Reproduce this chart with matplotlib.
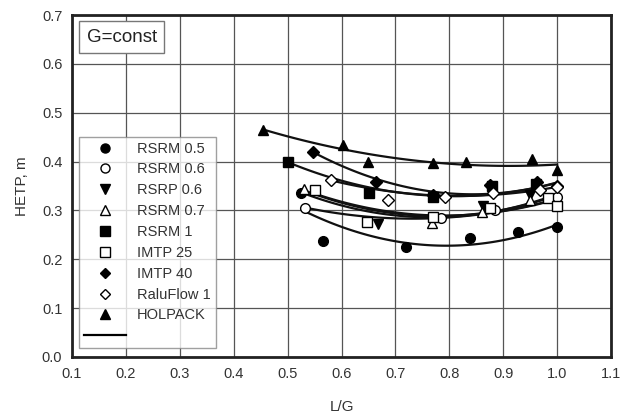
import numpy as np
import matplotlib
matplotlib.use("Agg")
import matplotlib.pyplot as plt
from matplotlib.lines import Line2D

plt.rcParams['font.family'] = ['Liberation Sans', 'DejaVu Sans']

# ---- data ----
names = ["RSRM 0.5", "RSRM 0.6", "RSRP 0.6", "RSRM 0.7", "RSRM 1",
         "IMTP 25", "IMTP 40", "RaluFlow 1", "HOLPACK"]
markers = ["o", "o", "v", "^", "s", "s", "D", "D", "^"]
filled = [True, False, True, False, True, False, True, False, True]

rsrm05_x = [0.525, 0.566, 0.72, 0.838, 0.927, 1.0]
rsrm05_y = [0.335, 0.237, 0.225, 0.243, 0.256, 0.267]
rsrm06_x = [0.533, 0.785, 0.885, 1.0]
rsrm06_y = [0.304, 0.284, 0.300, 0.328]
rsrp06_x = [0.667, 0.862, 0.95]
rsrp06_y = [0.272, 0.310, 0.331]
rsrm07_x = [0.53, 0.768, 0.861, 0.95]
rsrm07_y = [0.343, 0.274, 0.297, 0.321]
rsrm1_x = [0.5, 0.651, 0.77, 0.879, 0.96]
rsrm1_y = [0.40, 0.335, 0.327, 0.350, 0.355]
imtp25_x = [0.551, 0.647, 0.77, 0.876, 0.983, 1.0]
imtp25_y = [0.342, 0.276, 0.286, 0.304, 0.325, 0.310]
imtp40_x = [0.547, 0.664, 0.77, 0.876, 0.963, 1.0]
imtp40_y = [0.419, 0.358, 0.332, 0.352, 0.358, 0.350]
ralu_x = [0.58, 0.686, 0.792, 0.881, 0.968, 1.0]
ralu_y = [0.362, 0.321, 0.327, 0.335, 0.341, 0.348]
hol_x = [0.455, 0.603, 0.649, 0.77, 0.831, 0.953, 1.0]
hol_y = [0.465, 0.434, 0.400, 0.397, 0.400, 0.405, 0.382]

series_x = [rsrm05_x, rsrm06_x, rsrp06_x, rsrm07_x, rsrm1_x, imtp25_x, imtp40_x, ralu_x, hol_x]
series_y = [rsrm05_y, rsrm06_y, rsrp06_y, rsrm07_y, rsrm1_y, imtp25_y, imtp40_y, ralu_y, hol_y]

# fitted curves: knots, smoothed by quadratic fit
curve_hol_x = [0.455, 0.6, 0.75, 0.9, 1.0]
curve_hol_y = [0.466, 0.425, 0.400, 0.393, 0.393]
curve_imtp40_x = [0.55, 0.66, 0.77, 0.88, 1.0]
curve_imtp40_y = [0.420, 0.362, 0.337, 0.340, 0.355]
curve_rsrm1_x = [0.5, 0.65, 0.77, 0.88, 1.0]
curve_rsrm1_y = [0.400, 0.345, 0.330, 0.336, 0.355]
curve_ralu_x = [0.58, 0.7, 0.8, 0.9, 1.0]
curve_ralu_y = [0.362, 0.337, 0.330, 0.334, 0.348]
curve_rsrm07_x = [0.53, 0.65, 0.77, 0.88, 1.0]
curve_rsrm07_y = [0.342, 0.302, 0.287, 0.300, 0.330]
curve_imtp25_x = [0.55, 0.65, 0.77, 0.88, 1.0]
curve_imtp25_y = [0.336, 0.302, 0.290, 0.298, 0.322]
curve_rsrp06_x = [0.53, 0.65, 0.77, 0.88, 1.0]
curve_rsrp06_y = [0.335, 0.298, 0.285, 0.298, 0.333]
curve_rsrm06_x = [0.53, 0.65, 0.78, 0.88, 1.0]
curve_rsrm06_y = [0.305, 0.290, 0.284, 0.293, 0.325]
curve_rsrm05_x = [0.53, 0.65, 0.75, 0.85, 1.0]
curve_rsrm05_y = [0.300, 0.248, 0.228, 0.234, 0.270]

curves = [(curve_hol_x, curve_hol_y), (curve_imtp40_x, curve_imtp40_y),
          (curve_rsrm1_x, curve_rsrm1_y), (curve_ralu_x, curve_ralu_y),
          (curve_rsrm07_x, curve_rsrm07_y), (curve_imtp25_x, curve_imtp25_y),
          (curve_rsrp06_x, curve_rsrp06_y), (curve_rsrm06_x, curve_rsrm06_y),
          (curve_rsrm05_x, curve_rsrm05_y)]

x_ticks = [0.1, 0.2, 0.3, 0.4, 0.5, 0.6, 0.7, 0.8, 0.9, 1.0, 1.1]
y_ticks = [0.0, 0.1, 0.2, 0.3, 0.4, 0.5, 0.6, 0.7]

# ---- figure ----
fig = plt.figure(figsize=(6.21, 4.18), dpi=100)
ax = fig.add_axes([0.116, 0.146, 0.868, 0.818])
ax.set_xlim(0.1, 1.1)
ax.set_ylim(0.0, 0.7)
ax.set_xticks(x_ticks)
ax.set_yticks(y_ticks)
ax.set_xticklabels([f"{t:.1f}" for t in x_ticks])
ax.set_yticklabels([f"{t:.1f}" for t in y_ticks])
ax.grid(True, color='#555555', linewidth=0.9)
ax.set_axisbelow(True)
ax.tick_params(length=0, labelsize=10.5, colors='#333333', pad=7)
for s in ax.spines.values():
    s.set_linewidth(2.0)
    s.set_color('#222222')

for cx, cy in curves:
    c = np.polyfit(cx, cy, 2)
    xx = np.linspace(cx[0], cx[-1], 100)
    ax.plot(xx, np.polyval(c, xx), color='#111111', lw=1.6, zorder=3)

def msize(m):
    return 7.0 if m != 'D' else 6.0

for xs, ys, m, f in zip(series_x, series_y, markers, filled):
    ax.plot(xs, ys, linestyle='none', marker=m, markersize=msize(m),
            markerfacecolor='black' if f else 'white', markeredgecolor='black',
            markeredgewidth=1.0, zorder=4)

handles = [Line2D([], [], linestyle='none', marker=m, markersize=msize(m) - 0.5,
                  markerfacecolor='black' if f else 'white', markeredgecolor='black',
                  markeredgewidth=1.0) for m, f in zip(markers, filled)]
handles.append(Line2D([], [], color='black', lw=1.6))
labels = names + [""]
leg = ax.legend(handles, labels, loc='lower left', bbox_to_anchor=(0.012, 0.025),
                frameon=True, fancybox=False, fontsize=10.5, handlelength=2.9,
                handletextpad=0.75, labelspacing=0.47, borderpad=0.35,
                borderaxespad=0.0, labelcolor='#333333')
leg.get_frame().set_edgecolor('#888888')
leg.get_frame().set_linewidth(1.0)

ax.text(0.027, 0.96, "G=const", transform=ax.transAxes, fontsize=13.5, color='#222222',
        va='top', ha='left',
        bbox=dict(boxstyle='square,pad=0.4', facecolor='white', edgecolor='#777777', lw=1.0))

ax.set_xlabel("L/G", fontsize=11, color='#333333', labelpad=14)
ax.set_ylabel("HETP, m", fontsize=11, color='#333333', labelpad=9)

fig.savefig("out.png", dpi=100)
